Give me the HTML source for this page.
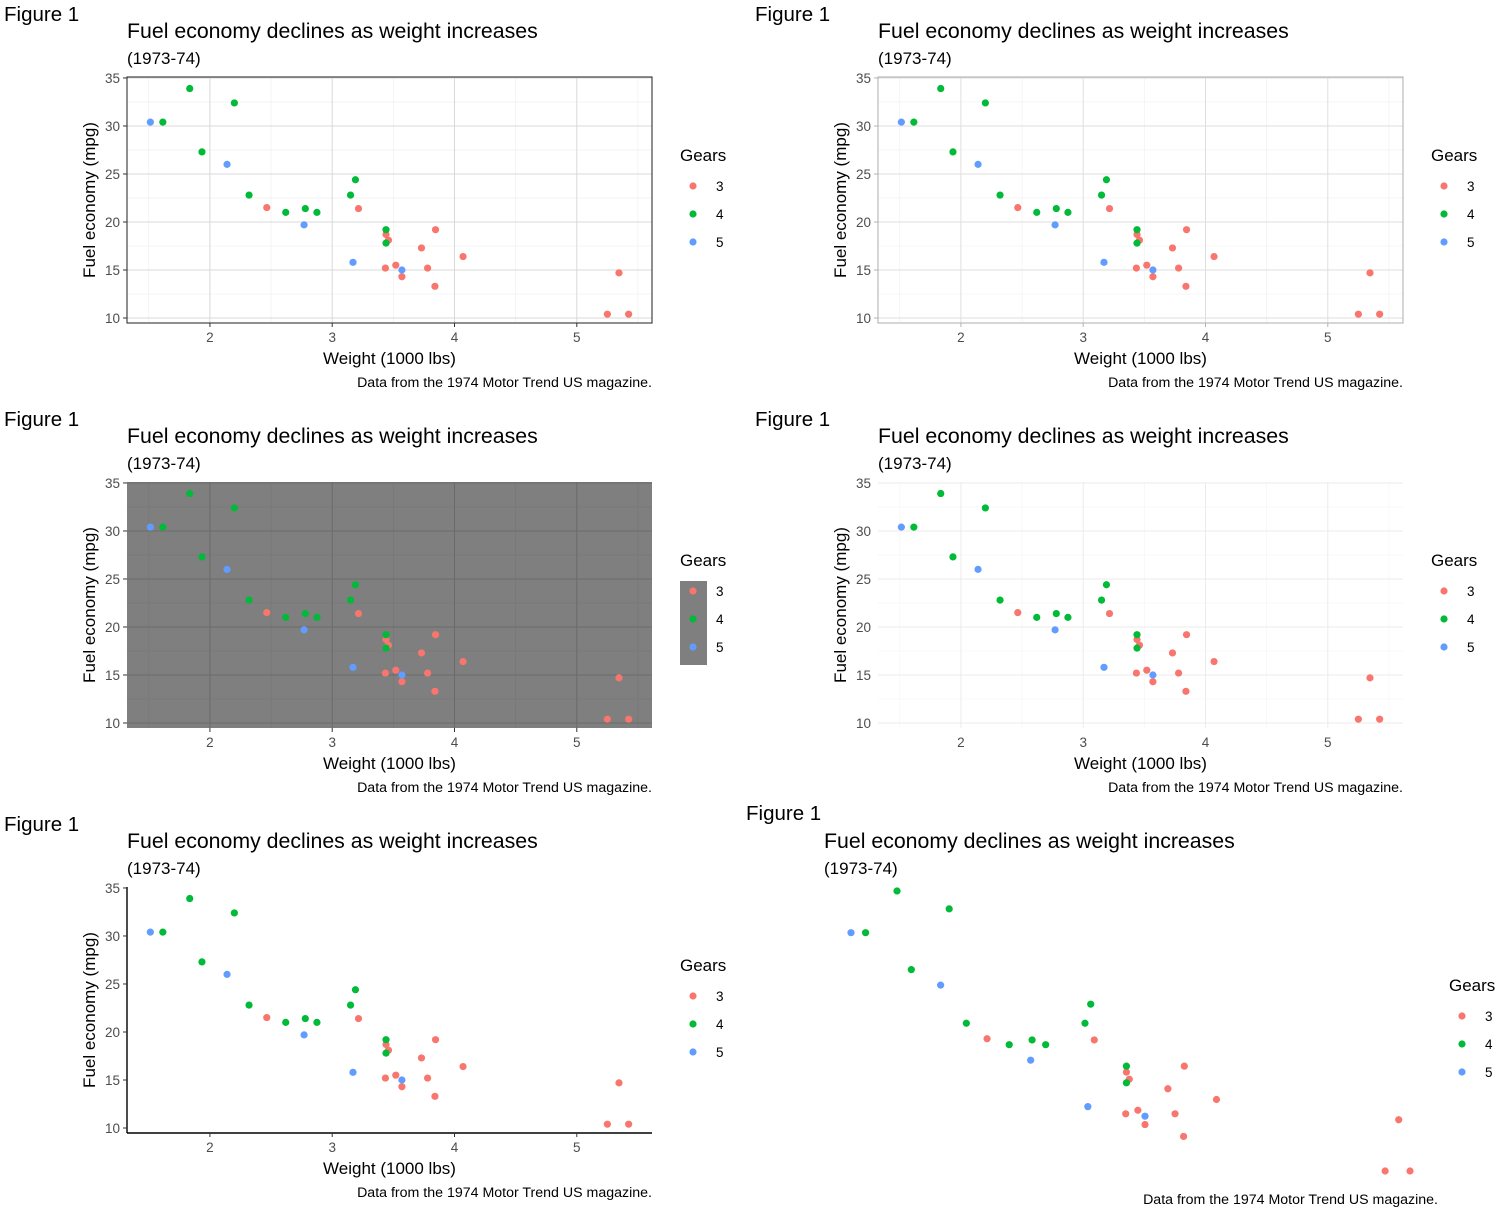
<!DOCTYPE html>
<html><head><meta charset="utf-8"><style>
html,body{margin:0;padding:0;background:#fff;}
svg{display:block;font-family:"Liberation Sans",Arial,sans-serif;}
</style></head><body>
<svg id="chart" width="1500" height="1211" viewBox="0 0 1500 1211" xmlns="http://www.w3.org/2000/svg"></svg>
<script>
// mtcars data: weight (1000 lbs), mpg, gears
const weights=[2.620,2.875,2.320,3.215,3.440,3.460,3.570,3.190,3.150,3.440,3.440,4.070,3.730,3.780,5.250,5.424,5.345,2.200,1.615,1.835,2.465,3.520,3.435,3.840,3.845,1.935,2.140,1.513,3.170,2.770,3.570,2.780];
const mpgs=[21.0,21.0,22.8,21.4,18.7,18.1,14.3,24.4,22.8,19.2,17.8,16.4,17.3,15.2,10.4,10.4,14.7,32.4,30.4,33.9,21.5,15.5,15.2,13.3,19.2,27.3,26.0,30.4,15.8,19.7,15.0,21.4];
const gears=[4,4,4,3,3,3,3,4,4,4,4,3,3,3,3,3,3,4,4,4,3,3,3,3,3,4,5,5,5,5,5,4];
const gearLevels=[3,4,5];
const xTicks=[2,3,4,5];
const yTicks=[10,15,20,25,30,35];
const xMinor=[1.5,2.5,3.5,4.5,5.5];
const yMinor=[12.5,17.5,22.5,27.5,32.5];
const colors={3:"#F8766D",4:"#00BA38",5:"#619CFF"};
const NS="http://www.w3.org/2000/svg";
const svg=document.getElementById('chart');
function mk(tag,attrs,parent,text){const e=document.createElementNS(NS,tag);for(const k in attrs)e.setAttribute(k,attrs[k]);if(text!==undefined)e.textContent=text;(parent||svg).appendChild(e);return e;}

function panel(ox,oy,theme,idx){
  const g=mk('g',{});
  
  
  const L=127+ox,R=652+ox,T=77+oy,B=323+oy;
  const X=v=>L+(v-1.322)/(5.615-1.322)*(R-L);
  const Y=v=>B-(v-9.48)/(35.1-9.48)*(B-T);
  let t=mk('text',{x:4+ox,y:21+oy,'font-size':20.5,fill:'#000'},g,'Figure 1');
  
  t=mk('text',{x:127+ox,y:38+oy,'font-size':21.3,fill:'#000'},g,'Fuel economy declines as weight increases');
  
  t=mk('text',{x:127+ox,y:64+oy,'font-size':17,fill:'#000'},g,'(1973-74)');
  
  const st={bw:{bg:'#fff',maj:'#d9d9d9',min:'#eeeeee',border:'#333'},
            light:{bg:'#fff',maj:'#dedede',min:'#efefef',border:'#b3b3b3'},
            dark:{bg:'#7f7f7f',maj:'#6b6b6b',min:'#767676',border:null},
            minimal:{bg:'#fff',maj:'#ebebeb',min:'#f4f4f4',border:null},
            classic:{bg:'#fff',maj:null,min:null,border:null}}[theme];
  const bg=mk('rect',{x:L,y:T,width:R-L,height:B-T,fill:st.bg},g);
  
  if(st.min){
    xMinor.forEach(v=>mk('line',{x1:X(v),x2:X(v),y1:T,y2:B,stroke:st.min,'stroke-width':0.6},g));
    yMinor.forEach(v=>mk('line',{x1:L,x2:R,y1:Y(v),y2:Y(v),stroke:st.min,'stroke-width':0.6},g));
  }
  if(st.maj){
    xTicks.forEach(v=>mk('line',{x1:X(v),x2:X(v),y1:T,y2:B,stroke:st.maj,'stroke-width':1},g));
    yTicks.forEach(v=>mk('line',{x1:L,x2:R,y1:Y(v),y2:Y(v),stroke:st.maj,'stroke-width':1},g));
  }
  if(st.border) mk('rect',{x:L,y:T,width:R-L,height:B-T,fill:'none',stroke:st.border,'stroke-width':1.1},g);
  if(theme==='classic'){
    mk('line',{x1:L,x2:L,y1:T,y2:B,stroke:'#000','stroke-width':1.4},g);
    mk('line',{x1:L,x2:R,y1:B,y2:B,stroke:'#000','stroke-width':1.4},g);
  }
  const tickCol=theme==='light'?'#b3b3b3':'#333';
  xTicks.forEach(v=>{
    if(theme!=='minimal') mk('line',{x1:X(v),x2:X(v),y1:B,y2:B+4,stroke:tickCol,'stroke-width':1},g);
    const e=mk('text',{x:X(v),y:342+oy,'font-size':13.5,fill:'#4d4d4d','text-anchor':'middle'},g,String(v));
    
  });
  yTicks.forEach(v=>{
    if(theme!=='minimal') mk('line',{x1:L-4,x2:L,y1:Y(v),y2:Y(v),stroke:tickCol,'stroke-width':1},g);
    const e=mk('text',{x:L-7,y:Y(v)+5,'font-size':13.5,fill:'#4d4d4d','text-anchor':'end'},g,String(v));
    
  });
  t=mk('text',{x:(L+R)/2,y:364+oy,'font-size':17,fill:'#000','text-anchor':'middle'},g,'Weight (1000 lbs)');
  
  t=mk('text',{x:0,y:0,'font-size':17,fill:'#000','text-anchor':'middle',transform:`translate(${95+ox},${(T+B)/2}) rotate(-90)`},g,'Fuel economy (mpg)');
  
  weights.forEach((w,i)=>{
    const c=mk('circle',{cx:X(w),cy:Y(mpgs[i]),r:3.6,fill:colors[gears[i]]},g);
    
    
  });
  t=mk('text',{x:R,y:387+oy,'font-size':14.2,fill:'#000','text-anchor':'end'},g,'Data from the 1974 Motor Trend US magazine.');
  
  legend(g,680+ox,155+oy,theme==='dark');
}
function legend(g,lx,ly,darkKey){
  const lg=mk('g',{},g);
  
  
  const t=mk('text',{x:lx,y:ly+6,'font-size':17,fill:'#000'},lg,'Gears');
  
  if(darkKey) mk('rect',{x:lx,y:ly+21,width:27,height:84,fill:'#7f7f7f'},lg);
  gearLevels.forEach((lv,i)=>{
    const cy=ly+31+i*28;
    const c=mk('circle',{cx:lx+13,cy:cy,r:3.6,fill:colors[lv]},lg);
    
    const e=mk('text',{x:lx+36,y:cy+5,'font-size':13.5,fill:'#000'},lg,String(lv));
    
  });
}
panel(0,0,'bw',1);
panel(751,0,'light',2);
panel(0,405,'dark',3);
panel(751,405,'minimal',4);
panel(0,810,'classic',5);
// panel 6: void theme
(function(){
  const g=mk('g',{});
  
  
  const X=v=>851+(v-1.513)*(1410-851)/(5.424-1.513);
  const Y=v=>1171-(v-10.4)*(1171-891)/(33.9-10.4);
  let t=mk('text',{x:746,y:820,'font-size':20.5,fill:'#000'},g,'Figure 1');
  
  t=mk('text',{x:824,y:848,'font-size':21.3,fill:'#000'},g,'Fuel economy declines as weight increases');
  
  t=mk('text',{x:824,y:874,'font-size':17,fill:'#000'},g,'(1973-74)');
  
  weights.forEach((w,i)=>{
    const c=mk('circle',{cx:X(w),cy:Y(mpgs[i]),r:3.6,fill:colors[gears[i]]},g);
    
    
  });
  t=mk('text',{x:1438,y:1204,'font-size':14.2,fill:'#000','text-anchor':'end'},g,'Data from the 1974 Motor Trend US magazine.');
  
  legend(g,1449,985,false);
})();
</script>
</body></html>
